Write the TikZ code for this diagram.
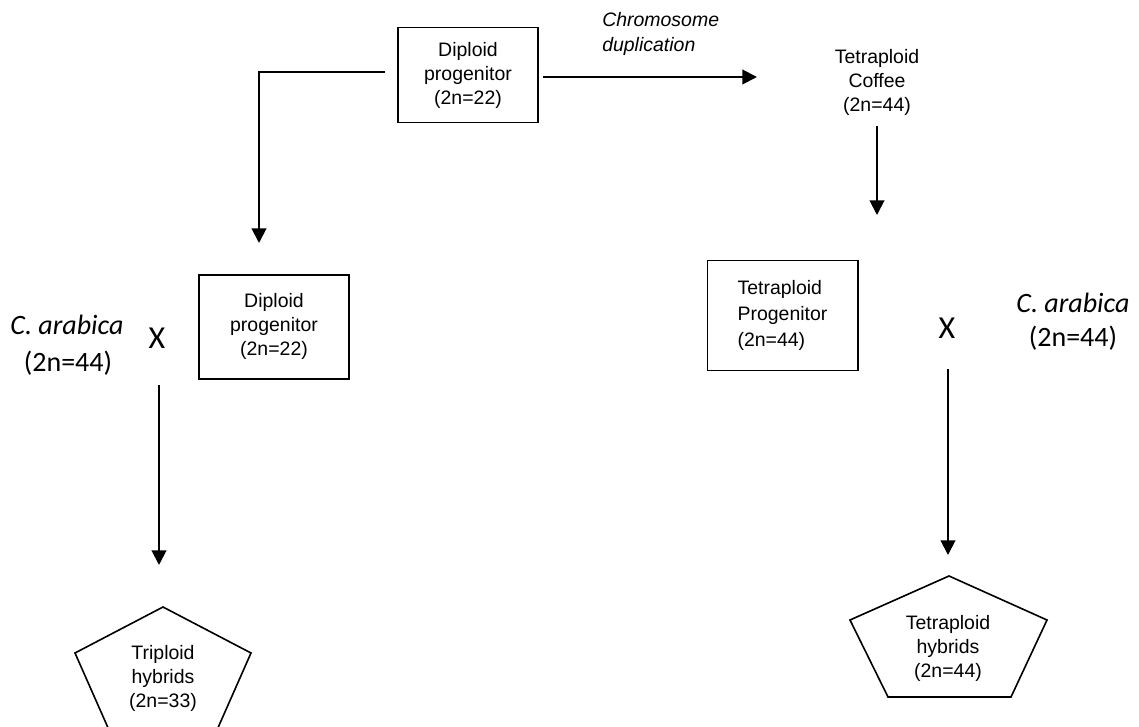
\documentclass[tikz,border=0pt]{standalone}
\usepackage{fontspec}
\setmainfont{Liberation Sans}
\newfontfamily\calib{Carlito}
\usetikzlibrary{arrows.meta}
\begin{document}
\begin{tikzpicture}[x=0.75pt,y=-0.75pt,
  txt/.style={align=center,inner sep=0pt,font=\fontsize{14.6}{18}\selectfont},
  boxed/.style={draw,line width=1pt,align=center,font=\fontsize{14.6}{18}\selectfont,inner sep=0pt},
  big/.style={inner sep=0pt,font=\calib\fontsize{21}{25}\selectfont},
  arr/.style={line width=1.5pt,-{Triangle[length=11pt,width=11pt]}},
  pent/.style={line width=1.2pt,line join=miter}]
\useasboundingbox (0,0) rectangle (1139,727);

% top
\node[boxed,minimum width=105pt,minimum height=71.25pt] (dp) at (468,75) {Diploid\\progenitor\\(2n=22)};
\node[txt,align=left,font=\itshape\fontsize{14.6}{18.5}\selectfont,anchor=north west] (cd) at (602,12) {Chromosome\\duplication};
\node[txt] (tc) at (877,82) {Tetraploid\\Coffee\\(2n=44)};

\coordinate (l1) at (385,72);
\coordinate (l2) at (259,243);
\coordinate (r1) at (543,77);
\coordinate (r2) at (757,77);
\coordinate (c1) at (877,126);
\coordinate (c2) at (877,215);
\draw[arr] (l1) -| (l2);
\draw[arr] (r1) -- (r2);
\draw[arr] (c1) -- (c2);

% left cross
\node[big,anchor=center] (ca1) at (67,325) {\itshape C. arabica};
\node[big] (cn1) at (68,363) {(2n=44)};
\node[big,font=\calib\fontsize{24}{28}\selectfont] (x1) at (157,338) {X};
\node[boxed,minimum width=112.5pt,minimum height=78pt,text depth=4pt] (dp2) at (274,327) {Diploid\\progenitor\\(2n=22)};

% right cross
\node[boxed,align=left,minimum width=113pt,minimum height=82pt,text depth=3pt,font=\fontsize{14.6}{19.5}\selectfont] (tp) at (782.5,315.5) {Tetraploid\\Progenitor\\(2n=44)};
\node[big,font=\calib\fontsize{24}{28}\selectfont] (x2) at (947,328) {X};
\node[big] (ca2) at (1073,303) {\itshape C. arabica};
\node[big] (cn2) at (1073,338) {(2n=44)};

% down arrows
\coordinate (d1) at (159,385);
\coordinate (d2) at (159,565);
\coordinate (e1) at (948,369);
\coordinate (e2) at (948,555);
\draw[arr] (d1) -- (d2);
\draw[arr] (e1) -- (e2);

% pentagons
\node[txt] (trh) at (163,678) {Triploid\\hybrids\\(2n=33)};
\draw[pent] ([shift={(0,-71)}]trh.center) -- ([shift={(-88,-25)}]trh.center) -- ([shift={(-54,52)}]trh.center) -- ([shift={(54,52)}]trh.center) -- ([shift={(88,-25)}]trh.center) -- cycle;

\node[txt] (teh) at (948,648) {Tetraploid\\hybrids\\(2n=44)};
\draw[pent] ([shift={(1,-72)}]teh.center) -- ([shift={(-98,-28)}]teh.center) -- ([shift={(-60,49)}]teh.center) -- ([shift={(63,49)}]teh.center) -- ([shift={(99,-28)}]teh.center) -- cycle;
\end{tikzpicture}
\end{document}
